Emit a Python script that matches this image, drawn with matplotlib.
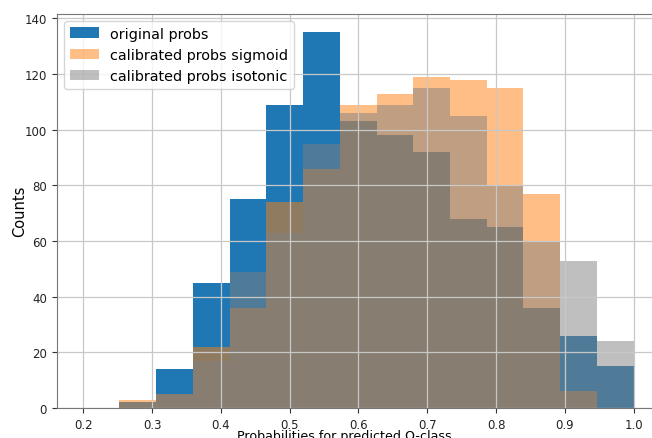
import numpy as np
import matplotlib
matplotlib.use("Agg")
import matplotlib.pyplot as plt

# 14 shared bins between the smallest observed probability and 1.0
bin_lo = 0.2524
bin_hi = 1.0
n_bins = 14

original = [2, 14, 45, 75, 109, 135, 103, 98, 92, 68, 65, 36, 26, 15]
sigmoid = [3, 5, 22, 36, 74, 86, 109, 113, 119, 118, 115, 77, 6, 0]
isotonic = [2, 5, 17, 49, 63, 95, 106, 109, 115, 105, 80, 60, 53, 24]

labels = ["original probs", "calibrated probs sigmoid", "calibrated probs isotonic"]


def main():
    edges = np.linspace(bin_lo, bin_hi, n_bins + 1)
    centers = 0.5 * (edges[:-1] + edges[1:])

    fig = plt.figure(figsize=(6.52, 4.39), dpi=100)
    ax = fig.add_axes([0.087, 0.0683, 0.927, 0.8986])

    ax.hist(centers, bins=edges, weights=original, color="C0", label=labels[0])
    ax.hist(centers, bins=edges, weights=sigmoid, color="C1", alpha=0.5, label=labels[1])
    ax.hist(centers, bins=edges, weights=isotonic, color="gray", alpha=0.5, label=labels[2])

    ax.set_xlim(0.1613, 1.04)
    ax.set_xticks([0.2, 0.3, 0.4, 0.5, 0.6, 0.7, 0.8, 0.9, 1.0])
    ax.set_yticks(range(0, 141, 20))
    ax.tick_params(labelsize=8.5, colors="#333333", labelcolor="#222222")
    for sp in ax.spines.values():
        sp.set_color("#777777")
    ax.grid(True, color="#c8c8c8", linewidth=0.9)
    ax.set_xlabel("Probabilities for predicted Q-class", fontsize=9.1)
    ax.xaxis.set_label_coords(0.4757, -0.054)
    ax.set_ylabel("Counts", fontsize=10.5, labelpad=-1.5)
    ax.legend(loc="upper left", fontsize=10.4, borderaxespad=0.5)

    fig.savefig("out.png", dpi=100)
    plt.close(fig)


if __name__ == "__main__":
    main()
